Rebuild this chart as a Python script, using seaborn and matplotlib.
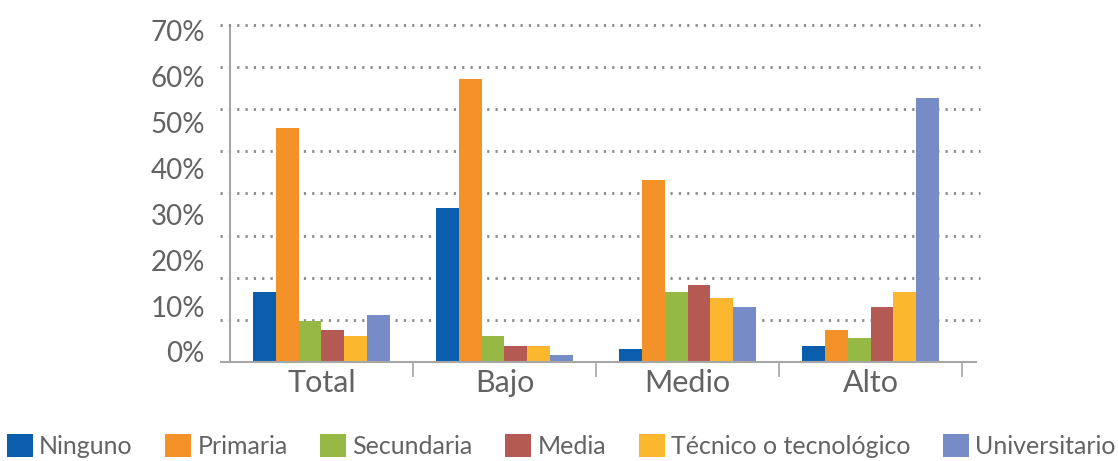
import matplotlib
matplotlib.use('Agg')
import matplotlib.pyplot as plt
import pandas as pd
import seaborn as sns

# datos (porcentaje de hogares por nivel educativo)
categorias = ['Total', 'Bajo', 'Medio', 'Alto']
niveles = ['Ninguno', 'Primaria', 'Secundaria', 'Media',
           'Técnico o tecnológico', 'Universitario']
ninguno = [16.6, 36.6, 3.1, 3.8]
primaria = [55.5, 67.2, 43.2, 7.6]
secundaria = [9.8, 6.2, 16.6, 5.7]
media = [7.6, 3.8, 18.3, 13.1]
tecnico = [6.2, 3.8, 15.2, 16.6]
universitario = [11.2, 1.7, 13.1, 62.7]
etiquetas_y = ['0%', '10%', '20%', '30%', '40%', '50%', '60%', '70%']

colores = ['#0B5EAD', '#F39229', '#95B944', '#B55A53', '#FBB72E', '#778BC6']

series = [ninguno, primaria, secundaria, media, tecnico, universitario]
filas = []
for nivel, valores in zip(niveles, series):
    for cat, v in zip(categorias, valores):
        filas.append({'grupo': cat, 'nivel': nivel, 'valor': v})
df = pd.DataFrame(filas)

sns.set_style('white')
plt.rcParams['font.family'] = ['Lato', 'DejaVu Sans']

gris = '#a6a6a6'
texto = '#636363'

fig = plt.figure(figsize=(11.18, 4.61), dpi=100)
ax = fig.add_axes([0.2057, 0.2148, 0.6548, 0.731])

sns.barplot(data=df, x='grupo', y='valor', hue='nivel', order=categorias,
            hue_order=niveles, palette=colores, saturation=1, width=0.75,
            linewidth=0, ax=ax, zorder=2)

ax.set_xlim(-0.5, 3.5)
ax.set_ylim(0, 80)
ax.set_xlabel('')
ax.set_ylabel('')

# lineas punteadas
ax.hlines(range(10, 90, 10), -0.555, 3.6, colors='#8a8a8a', linewidth=2,
          linestyles=(0, (0.8, 2.2)), clip_on=False, zorder=0.5)
# linea base
ax.hlines(0, -0.555, 3.58, colors=gris, linewidth=1.5, clip_on=False, zorder=3)

for s in ['top', 'right', 'bottom']:
    ax.spines[s].set_visible(False)
ax.spines['left'].set_color(gris)
ax.spines['left'].set_linewidth(1.5)
ax.spines['left'].set_bounds(0, 79.3)

ax.set_yticks([])
ax.set_xticks([0.5, 1.5, 2.5, 3.5], minor=True)
ax.tick_params(axis='x', which='major', length=0, pad=5, labelsize=22,
               labelcolor=texto)
ax.tick_params(axis='x', which='minor', length=11, width=1.2, color=gris,
               direction='out', bottom=True)

# eje de etiquetas porcentuales
ax2 = ax.twinx()
ax2.yaxis.tick_left()
ax2.set_ylim(-2.18, 71.31)
ax2.set_yticks(range(0, 80, 10))
ax2.set_yticklabels(etiquetas_y)
ax2.tick_params(axis='y', length=0, pad=18, labelsize=20, labelcolor=texto)
for s in ax2.spines.values():
    s.set_visible(False)

handles, labels = ax.get_legend_handles_labels()
ax.get_legend().remove()
fig.legend(handles, labels, loc='center', bbox_to_anchor=(0.502, 0.032),
           ncol=6, frameon=False, fontsize=18, handlelength=1.04,
           handleheight=1.04, handletextpad=0.25, columnspacing=1.3,
           labelcolor=texto)

fig.savefig('out.png', dpi=100)
